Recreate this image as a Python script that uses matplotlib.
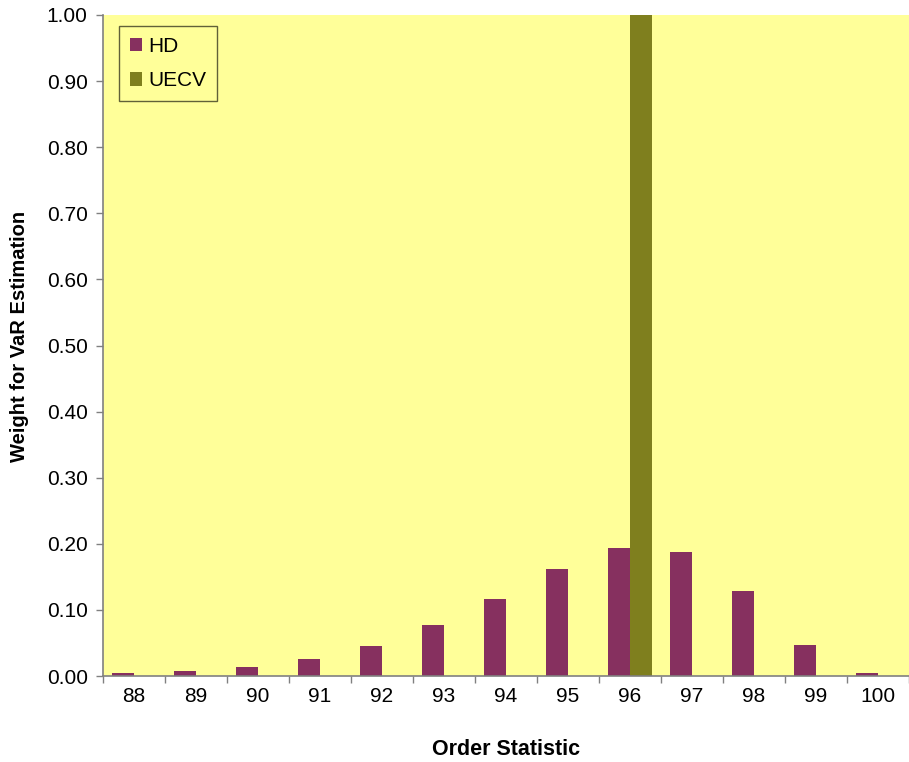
import matplotlib
matplotlib.use("Agg")
import matplotlib.pyplot as plt
import numpy as np
from matplotlib.patches import Patch

plt.rcParams['font.family'] = ['Liberation Sans', 'DejaVu Sans']

order_stats = ["88", "89", "90", "91", "92", "93", "94", "95", "96", "97", "98", "99", "100"]
hd_weights = [0.004, 0.007, 0.013, 0.025, 0.046, 0.077, 0.117, 0.162, 0.193, 0.187, 0.129, 0.047, 0.004]
uecv_weights = [0, 0, 0, 0, 0, 0, 0, 0, 1.00, 0, 0, 0, 0]
y_ticks = [0.0, 0.1, 0.2, 0.3, 0.4, 0.5, 0.6, 0.7, 0.8, 0.9, 1.0]

hd_color = "#86305F"
uecv_color = "#7F7F1E"
bg_color = "#FFFF99"
axis_color = "#808080"

fig = plt.figure(figsize=(9.09, 7.62), dpi=100)
ax = fig.add_axes([103 / 909, 1 - 676 / 762, 806 / 909, 661 / 762])
ax.set_facecolor(bg_color)

x = np.arange(len(order_stats))
w = 0.35
ax.bar(x - w / 2, hd_weights, width=w, color=hd_color, zorder=2)
ax.bar(x + w / 2, uecv_weights, width=w, color=uecv_color, zorder=2)

ax.set_xlim(-0.5, len(order_stats) - 0.5)
ax.set_ylim(0, 1.0)

# category labels at centres, tick marks at category boundaries
ax.set_xticks(np.arange(-0.5, len(order_stats), 1.0))
ax.set_xticklabels([])
ax.set_xticks(x, minor=True)
ax.set_xticklabels(order_stats, minor=True)
ax.tick_params(axis='x', which='major', direction='out', length=5, width=1, color=axis_color)
ax.tick_params(axis='x', which='minor', length=0, pad=8, labelsize=15)

ax.set_yticks(y_ticks)
ax.set_yticklabels([f"{v:.2f}" for v in y_ticks])
ax.tick_params(axis='y', direction='out', length=5, width=1, color=axis_color, labelsize=15, pad=6)

for side in ("top", "right"):
    ax.spines[side].set_visible(False)
for side in ("left", "bottom"):
    ax.spines[side].set_color(axis_color)
    ax.spines[side].set_linewidth(1.2)

ax.set_xlabel("Order Statistic", fontsize=15.5, fontweight='bold', labelpad=24)
ax.set_ylabel("Weight for VaR Estimation", fontsize=14.5, fontweight='bold')
ax.yaxis.set_label_coords(-0.092, 0.513)

handles = [Patch(facecolor=hd_color, label="HD"), Patch(facecolor=uecv_color, label="UECV")]
leg = ax.legend(handles=handles, loc='upper left', bbox_to_anchor=(0.02, 0.983),
                fontsize=15, frameon=True, fancybox=False, handlelength=0.6,
                handleheight=0.6, handletextpad=0.3, labelspacing=0.75,
                borderpad=0.5, borderaxespad=0.0)
leg.get_frame().set_facecolor(bg_color)
leg.get_frame().set_edgecolor("#3A3A20")
leg.get_frame().set_linewidth(1.0)

fig.savefig("out.png", dpi=100, facecolor="white")
